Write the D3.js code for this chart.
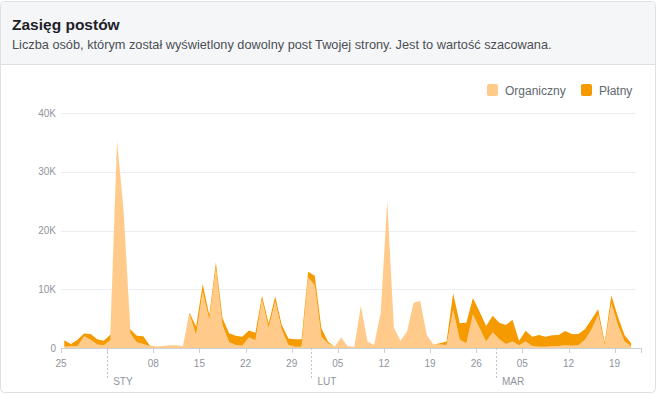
<!DOCTYPE html>
<html>
<head>
<meta charset="utf-8">
<script src="https://cdn.jsdelivr.net/npm/d3@7"></script>
<style>
  html, body { margin: 0; padding: 0; background: #fff; }
  svg { display: block; font-family: "Helvetica Neue", Helvetica, Arial, "Liberation Sans", sans-serif; }
</style>
</head>
<body>
<script>
// daily reach, in thousands, from 25 Dec 2017 to 21 Mar 2018
var startDay = new Date(2017, 11, 25);
var organic = [
  0.2, 0.3, 0.3, 2.0, 1.4, 0.6, 0.45, 1.3, 34.8, 22.8,
  2.5, 1.0, 0.7, 0.3, 0.25, 0.35, 0.45, 0.45, 0.3, 5.7,
  2.2, 9.6, 4.8, 13.6, 3.9, 1.0, 0.5, 0.4, 1.8, 1.3,
  8.2, 3.4, 7.9, 3.1, 0.5, 0.2, 0.2, 12.0, 10.7, 1.9,
  0.8, 0.2, 1.8, 0.3, 0.2, 7.2, 1.1, 0.5, 5.9, 25.0,
  3.5, 1.25, 2.8, 7.7, 8.0, 2.2, 0.6, 0.6, 0.5, 6.5,
  1.4, 0.8, 5.7, 3.4, 1.1, 2.7, 1.5, 0.7, 1.1, 0.45,
  1.1, 0.35, 0.2, 0.2, 0.3, 0.35, 0.45, 0.4, 0.45, 1.4,
  3.2, 5.6, 0.5, 7.6, 3.9, 1.1, 0.3
];
var paid = [
  1.1, 0.4, 1.1, 0.45, 1.0, 0.9, 0.8, 1.0, 0.3, 0.3,
  0.7, 1.1, 1.3, 0.1, 0, 0, 0, 0, 0, 0.3,
  1.4, 1.3, 0.8, 1.0, 1.2, 1.5, 1.6, 1.5, 1.2, 1.3,
  0.7, 0.8, 0.85, 0.8, 1.1, 1.3, 1.3, 1.0, 1.6, 1.5,
  0.3, 0, 0, 0, 0, 0, 0, 0, 0, 0,
  0, 0, 0, 0, 0, 0, 0, 0.2, 0.6, 2.8,
  2.8, 3.5, 2.8, 2.8, 2.65, 2.8, 2.8, 3.2, 3.7, 0.8,
  1.85, 1.55, 2.0, 1.7, 1.85, 1.85, 2.45, 2.0, 1.95, 1.8,
  1.7, 1.0, 0.5, 1.4, 1.4, 1.1, 0.5
];
var yTicks = [0, 10000, 20000, 30000, 40000];
var monthLabels = ["STY", "LUT", "MAR"];
var seriesNames = ["Organiczny", "Płatny"];
var colors = ["#ffca8a", "#f59a00"];

var W = 658, H = 394;
var svg = d3.select("body").append("svg").attr("width", W).attr("height", H);

// card + header
svg.append("rect").attr("x", 0.5).attr("y", 1.5).attr("width", 655).attr("height", 391)
  .attr("rx", 4).attr("fill", "#fff").attr("stroke", "#dddfe2");
svg.append("path").attr("d", "M1,64 V6 Q1,2 5,2 H651 Q655,2 655,6 V64 Z").attr("fill", "#f5f6f7");
svg.append("line").attr("x1", 1).attr("x2", 655).attr("y1", 64.5).attr("y2", 64.5).attr("stroke", "#dddfe2");

svg.append("text").attr("x", 12).attr("y", 30).attr("fill", "#1d2129")
  .style("font-size", "15.5px").style("font-weight", 600).text("Zasięg postów");
svg.append("text").attr("x", 12).attr("y", 48.5).attr("fill", "#4b4f56")
  .style("font-size", "12.75px")
  .text("Liczba osób, którym został wyświetlony dowolny post Twojej strony. Jest to wartość szacowana.");

// scales
var data = organic.map(function(d, i) {
  return { date: d3.timeHour.offset(d3.timeDay.offset(startDay, i), 12), org: d * 1000, paid: paid[i] * 1000 };
});
var x = d3.scaleTime().domain([startDay, new Date(2018, 2, 23)]).range([61, 641]);
var y = d3.scaleLinear().domain([0, 40000]).range([348, 113]);

// grid
svg.append("g").selectAll("line").data(yTicks.slice(1)).enter().append("line")
  .attr("x1", 61).attr("x2", 636)
  .attr("y1", function(d) { return Math.round(y(d)) + 0.5; })
  .attr("y2", function(d) { return Math.round(y(d)) + 0.5; })
  .attr("stroke", "#ebedf0");
svg.append("g").selectAll("text").data(yTicks).enter().append("text")
  .attr("x", 56).attr("y", function(d) { return y(d) + 3.5; })
  .attr("text-anchor", "end").attr("fill", "#90949c").style("font-size", "10px")
  .text(function(d) { return d === 0 ? "0" : d / 1000 + "K"; });

// stacked areas
var stack = d3.stack().keys(["org", "paid"]);
var layers = stack(data);
var area = d3.area()
  .x(function(d) { return x(d.data.date); })
  .y0(function(d) { return y(d[0]); })
  .y1(function(d) { return y(d[1]); });
svg.append("g").selectAll("path").data(layers).enter().append("path")
  .attr("d", area)
  .attr("fill", function(d, i) { return colors[i]; });

// x axis
svg.append("line").attr("x1", 61).attr("x2", 641).attr("y1", 348.5).attr("y2", 348.5).attr("stroke", "#ccd0d5");
var weeks = d3.timeMonday.range(startDay, new Date(2018, 2, 23));
var months = d3.timeMonth.range(new Date(2018, 0, 1), new Date(2018, 2, 2));
var ax = svg.append("g");
ax.selectAll("line.wk").data(weeks.concat([x.domain()[1]])).enter().append("line")
  .attr("class", "wk")
  .attr("x1", function(d) { return Math.round(x(d)) + 0.5; })
  .attr("x2", function(d) { return Math.round(x(d)) + 0.5; })
  .attr("y1", 348).attr("y2", 353).attr("stroke", "#ccd0d5");
ax.selectAll("text.wk").data(weeks.filter(function(d) { return d.getDate() !== 1; })).enter().append("text")
  .attr("class", "wk")
  .attr("x", function(d) { return x(d); }).attr("y", 367)
  .attr("text-anchor", "middle").attr("fill", "#90949c").style("font-size", "10px")
  .text(d3.timeFormat("%d"));
ax.selectAll("line.mo").data(months).enter().append("line")
  .attr("class", "mo")
  .attr("x1", function(d) { return Math.round(x(d)) + 0.5; })
  .attr("x2", function(d) { return Math.round(x(d)) + 0.5; })
  .attr("y1", 348).attr("y2", 378).attr("stroke", "#bec3c9").attr("stroke-dasharray", "2,2");
ax.selectAll("text.mo").data(months).enter().append("text")
  .attr("class", "mo")
  .attr("x", function(d) { return x(d) + 6; }).attr("y", 385)
  .attr("fill", "#90949c").style("font-size", "10px")
  .text(function(d, i) { return monthLabels[i]; });

// legend
var legX = [487, 581];
var leg = svg.append("g").selectAll("g").data(seriesNames).enter().append("g")
  .attr("transform", function(d, i) { return "translate(" + legX[i] + ",84)"; });
leg.append("rect").attr("width", 11).attr("height", 12).attr("rx", 2)
  .attr("fill", function(d, i) { return colors[i]; });
leg.append("text").attr("x", 18).attr("y", 10.5).attr("fill", "#606770")
  .style("font-size", "12px").text(function(d) { return d; });
</script>
</body>
</html>
